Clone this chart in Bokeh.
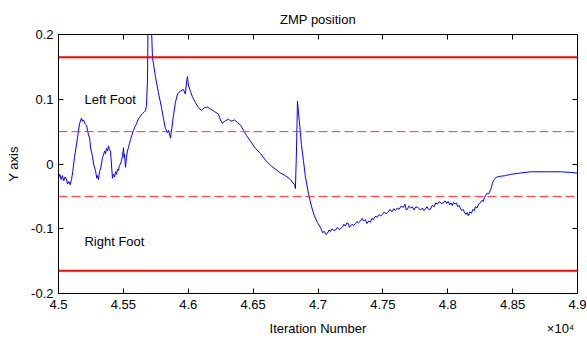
from bokeh.plotting import figure
from bokeh.models import (Range1d, FixedTicker, CustomJSTickFormatter, LinearAxis,
                          Span, ColumnDataSource, CustomLabelingPolicy)
from bokeh.core.properties import value
from bokeh.embed import file_html
from bokeh.resources import INLINE

# ---------------- data ----------------
iteration = [45000, 45010, 45020, 45030, 45040, 45050, 45060, 45070, 45080, 45090,
             45100, 45110, 45123, 45146, 45162, 45177, 45185, 45193, 45205, 45216,
             45231, 45240, 45247, 45262, 45270, 45285, 45295, 45300, 45308, 45316,
             45324, 45339, 45347, 45355, 45362, 45370, 45378, 45385, 45393, 45401,
             45408, 45416, 45424, 45432, 45440, 45447, 45455, 45462, 45470, 45478,
             45486, 45493, 45501, 45505, 45509, 45516, 45524, 45531, 45539, 45547,
             45555, 45566, 45578, 45590, 45601, 45612, 45624, 45635, 45647, 45660,
             45670, 45678, 45686, 45690, 45717, 45724, 45747,
             45770, 45793, 45809, 45824, 45840, 45847, 45863, 45870, 45886, 45901,
             45917, 45940, 45963, 45978, 45986, 45994, 46001, 46017, 46032, 46055,
             46078, 46101, 46125, 46148, 46171, 46202, 46233, 46248, 46264, 46287,
             46310, 46333, 46356, 46380, 46403, 46426, 46449, 46480, 46518, 46557,
             46595, 46634, 46672, 46711, 46749, 46788, 46819, 46826, 46834, 46842,
             46849, 46857, 46872, 46888, 46903, 46926, 46949, 46972, 46995,
             47019, 47035, 47049, 47060, 47073, 47085, 47096, 47110, 47122, 47134,
             47150, 47162, 47173, 47190, 47200, 47211, 47222, 47234, 47242, 47250,
             47262, 47275, 47288, 47300, 47312, 47327, 47340, 47352, 47365, 47378,
             47390, 47404, 47415, 47427, 47440, 47458, 47470, 47484, 47496, 47510,
             47525, 47542, 47555, 47570, 47585, 47596, 47610, 47625, 47640, 47658,
             47670, 47680, 47689, 47700, 47715, 47727, 47740, 47755, 47773, 47790,
             47805, 47815, 47827, 47840, 47852, 47866, 47880, 47895, 47908, 47920,
             47935, 47950, 47966, 47980, 47993, 48004, 48015, 48025, 48035, 48045,
             48056, 48066, 48077, 48087, 48097, 48108, 48118, 48128, 48140, 48150,
             48159, 48170, 48182, 48195, 48205, 48213, 48225, 48238, 48251, 48265,
             48274, 48282, 48294, 48305, 48316, 48329, 48337, 48344, 48352, 48359,
             48370, 48382, 48405, 48444, 48483, 48560, 48637, 48753, 48869, 48946,
             49000]
zmp_y = [-0.022, -0.016, -0.024, -0.018, -0.026, -0.020, -0.023, -0.031, -0.027, -0.032,
         -0.024, -0.012, 0.010, 0.040, 0.062, 0.071, 0.066, 0.068, 0.062, 0.060,
         0.045, 0.040, 0.025, 0.012, 0.000, -0.010, -0.022, -0.018, -0.024, -0.012,
         -0.008, 0.010, 0.014, 0.020, 0.016, 0.024, 0.020, 0.028, 0.022, 0.020,
         0.000, -0.022, -0.016, -0.020, -0.012, -0.016, -0.008, -0.010, -0.002, 0.000,
         0.006, 0.012, 0.025, 0.010, 0.015, -0.005, 0.010, 0.020, 0.025, 0.032,
         0.038, 0.045, 0.052, 0.058, 0.062, 0.068, 0.072, 0.075, 0.078, 0.080,
         0.082, 0.090, 0.130, 0.215, 0.210, 0.165, 0.135,
         0.110, 0.088, 0.070, 0.055, 0.048, 0.052, 0.040, 0.050, 0.075, 0.095,
         0.108, 0.113, 0.115, 0.108, 0.125, 0.135, 0.122, 0.112, 0.104, 0.095,
         0.087, 0.083, 0.087, 0.088, 0.085, 0.081, 0.077, 0.068, 0.063, 0.067,
         0.069, 0.066, 0.068, 0.064, 0.060, 0.052, 0.044, 0.035, 0.024, 0.016,
         0.006, -0.002, -0.008, -0.014, -0.018, -0.024, -0.032, -0.038, 0.020, 0.097,
         0.080, 0.065, 0.030, 0.005, -0.020, -0.045, -0.065, -0.080, -0.090,
         -0.098, -0.106, -0.104, -0.109, -0.107, -0.102, -0.104, -0.100, -0.103, -0.102,
         -0.098, -0.101, -0.100, -0.097, -0.093, -0.096, -0.091, -0.092, -0.098, -0.096,
         -0.093, -0.095, -0.092, -0.089, -0.091, -0.088, -0.084, -0.088, -0.086, -0.092,
         -0.088, -0.090, -0.084, -0.086, -0.081, -0.082, -0.078, -0.080, -0.078, -0.074,
         -0.077, -0.074, -0.070, -0.074, -0.069, -0.072, -0.068, -0.070, -0.065, -0.067,
         -0.062, -0.071, -0.070, -0.065, -0.068, -0.066, -0.071, -0.066, -0.068, -0.071,
         -0.068, -0.072, -0.070, -0.066, -0.070, -0.070, -0.064, -0.066, -0.060, -0.062,
         -0.058, -0.061, -0.060, -0.057, -0.061, -0.058, -0.063, -0.060, -0.064, -0.059,
         -0.062, -0.060, -0.066, -0.064, -0.068, -0.072, -0.070, -0.074, -0.078, -0.075,
         -0.080, -0.074, -0.076, -0.070, -0.072, -0.066, -0.068, -0.062, -0.060, -0.056,
         -0.058, -0.052, -0.048, -0.045, -0.046, -0.040, -0.036, -0.030, -0.026, -0.024,
         -0.021, -0.020, -0.019, -0.018, -0.016, -0.014, -0.012, -0.012, -0.012, -0.013,
         -0.014]

foot_limits = [0.165, -0.165]          # solid red lines
inner_limits = [0.05, -0.05]           # dashed red lines
foot_labels = ["Left Foot", "Right Foot"]
foot_label_x = [45200, 45200]
foot_label_y = [0.10, -0.12]
x_ticks = [45000, 45500, 46000, 46500, 47000, 47500, 48000, 48500, 49000]
y_ticks = [-0.2, -0.1, 0.0, 0.1, 0.2]
x_title = "Iteration Number"
x_title_pos = 47000
x_exponent = "×10⁴"
x_exponent_pos = 48870

FONT = "Liberation Sans"
FS = "13px"

p = figure(width=587, height=345, output_backend="svg", toolbar_location=None,
           x_range=Range1d(45000, 49000), y_range=Range1d(-0.2, 0.2),
           title="ZMP position", min_border_left=58, min_border_right=10,
           min_border_top=34, min_border_bottom=52)
p.background_fill_color = "white"
p.border_fill_color = "white"
p.outline_line_color = "black"
p.grid.visible = False

p.title.align = "center"
p.title.text_font = FONT
p.title.text_font_size = FS
p.title.text_font_style = "normal"
p.title.text_color = "black"
p.title.standoff = 15

xfmt = CustomJSTickFormatter(code="return String(Math.round(tick/10)/1000);")
yfmt = CustomJSTickFormatter(code="return String(Math.round(tick*10)/10);")

for ax, ticks, fmt in ((p.xaxis[0], x_ticks, xfmt), (p.yaxis[0], y_ticks, yfmt)):
    ax.ticker = FixedTicker(ticks=ticks)
    ax.formatter = fmt
    ax.major_tick_in = 5
    ax.major_tick_out = 0
    ax.minor_tick_line_color = None
    ax.axis_line_color = "black"
    ax.major_tick_line_color = "black"
    ax.major_label_text_font = FONT
    ax.major_label_text_font_size = FS
    ax.major_label_text_color = "black"
    ax.axis_label_text_font = FONT
    ax.axis_label_text_font_size = FS
    ax.axis_label_text_font_style = "normal"
    ax.axis_label_text_color = "black"

p.xaxis.major_label_standoff = 6
p.yaxis.axis_label = "Y axis"
p.yaxis.major_label_standoff = 5
p.yaxis.axis_label_standoff = 7

# second below axis: axis title and the x10^4 multiplier on one row
title_axis = LinearAxis(ticker=FixedTicker(ticks=[x_title_pos, x_exponent_pos]),
                        major_label_overrides={x_title_pos: x_title,
                                               x_exponent_pos: x_exponent},
                        axis_line_color=None, major_tick_line_color=None,
                        minor_tick_line_color=None, major_tick_in=0, major_tick_out=0,
                        major_label_standoff=9, major_label_text_font=FONT,
                        major_label_text_font_size=FS, major_label_text_color="black")
p.add_layout(title_axis, "below")

# mirrored tick axes on top and right (box style), without labels
hide = CustomLabelingPolicy(code="return []")
blank = CustomJSTickFormatter(code="return '';")
for loc, ticks in (("above", x_ticks), ("right", y_ticks)):
    ax = LinearAxis(ticker=FixedTicker(ticks=ticks), formatter=blank,
                    major_tick_in=5, major_tick_out=0,
                    minor_tick_line_color=None, major_label_policy=hide,
                    major_label_text_font_size="0px",
                    major_label_standoff=0, axis_line_color="black")
    p.add_layout(ax, loc)

# foot limit lines
for loc in foot_limits:
    p.add_layout(Span(location=loc, dimension="width", line_color="#ff0000", line_width=2))
for loc in inner_limits:
    p.add_layout(Span(location=loc, dimension="width", line_color="#ff3030", line_width=1,
                      line_dash="9 4"))

# ZMP trace
src = ColumnDataSource(dict(x=iteration, y=zmp_y))
p.line("x", "y", source=src, line_color="#0000ff", line_width=1)

# foot annotations
tsrc = ColumnDataSource(dict(x=foot_label_x, y=foot_label_y, t=foot_labels))
p.text("x", "y", text="t", source=tsrc, text_font=value(FONT), text_font_size=FS,
       text_baseline="middle", text_align="left", text_color="black")

open("out.html", "w").write(file_html(p, INLINE))
